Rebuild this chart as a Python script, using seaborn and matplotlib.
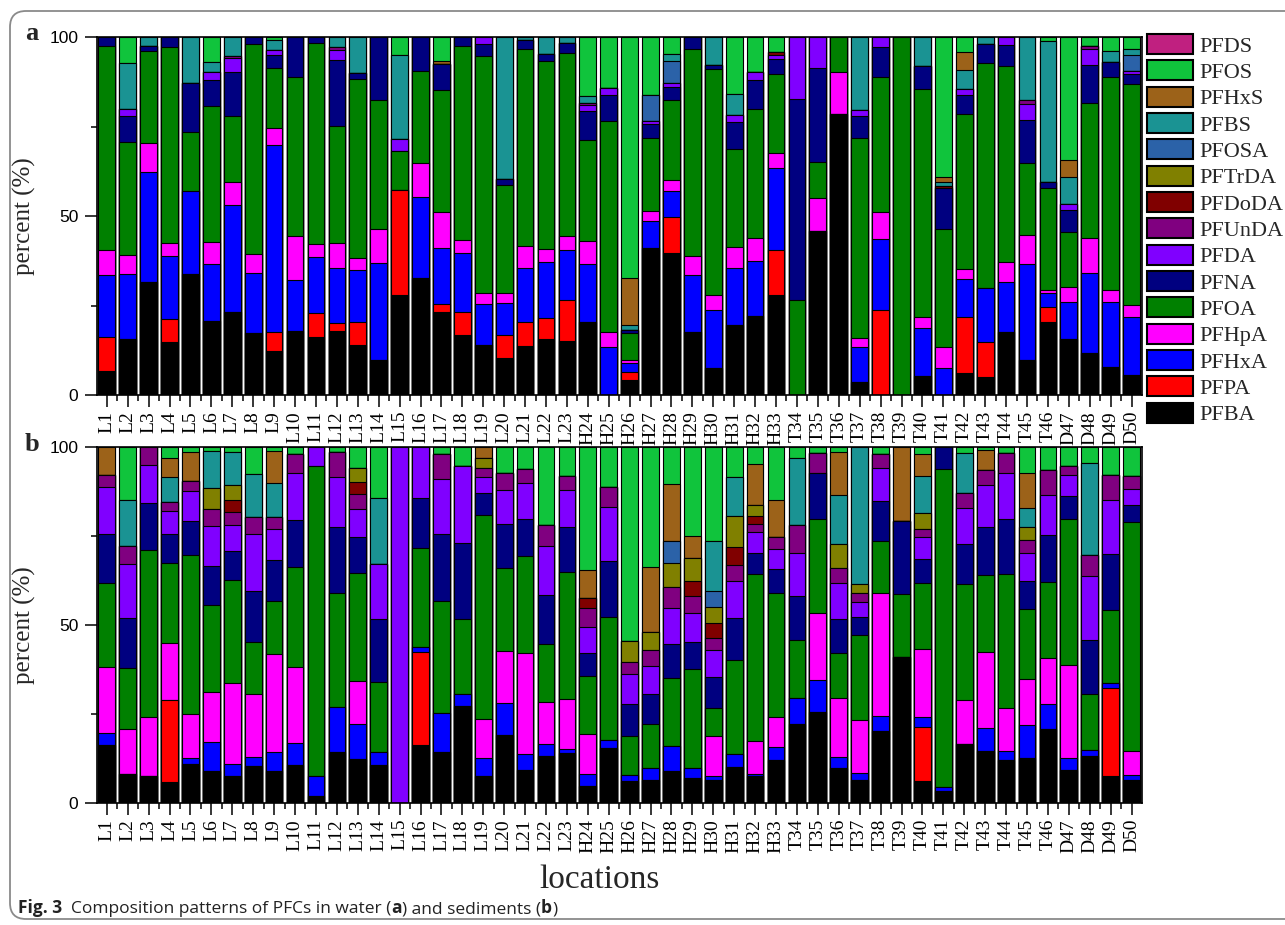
import numpy as np
import pandas as pd
import matplotlib
matplotlib.use("Agg")
import matplotlib.pyplot as plt
import seaborn as sns
from matplotlib.patches import Patch, FancyBboxPatch
from matplotlib.ticker import FixedLocator
from matplotlib.transforms import IdentityTransform

# ---------------- data ----------------
locations = ["L1", "L2", "L3", "L4", "L5", "L6", "L7", "L8", "L9", "L10",
             "L11", "L12", "L13", "L14", "L15", "L16", "L17", "L18", "L19", "L20",
             "L21", "L22", "L23", "H24", "H25", "H26", "H27", "H28", "H29", "H30",
             "H31", "H32", "H33", "T34", "T35", "T36", "T37", "T38", "T39", "T40",
             "T41", "T42", "T43", "T44", "T45", "T46", "D47", "D48", "D49", "D50"]

components = ["PFBA", "PFPA", "PFHxA", "PFHpA", "PFOA", "PFNA", "PFDA", "PFUnDA",
              "PFDoDA", "PFTrDA", "PFOSA", "PFBS", "PFHxS", "PFOS", "PFDS"]

colors = ["#000000", "#FF0000", "#0000FF", "#FF00FF", "#008000", "#000080", "#8000FF",
          "#800080", "#800000", "#808000", "#2B62A8", "#1A9393", "#9C6219", "#10C43C", "#C02080"]

# panel a: water (% composition)
water_PFBA = [6.8, 15.6, 31.4, 14.9, 33.7, 20.7, 23.1, 17.4, 12.3, 17.9,
              16.1, 17.9, 14.0, 9.8, 28.0, 32.6, 23.3, 16.8, 14.0, 10.4,
              13.8, 15.6, 15.1, 20.3, 0, 4.2, 41.0, 39.6, 17.5, 7.5,
              19.6, 22.2, 27.8, 0, 45.9, 78.6, 3.7, 0, 0, 5.3,
              0, 6.1, 4.9, 17.7, 9.8, 20.5, 15.6, 11.6, 7.9, 5.6]
water_PFPA = [9.5, 0, 0, 6.3, 0, 0, 0, 0, 5.4, 0,
              6.7, 2.1, 6.5, 0, 29.3, 0, 2.1, 6.5, 0, 6.4,
              6.7, 6.0, 11.3, 0, 0, 2.3, 0, 10.1, 0, 0,
              0, 0, 12.6, 0, 0, 0, 0, 23.8, 0, 0,
              0, 15.8, 9.8, 0, 0, 4.2, 0, 0, 0, 0]
water_PFHxA = [17.3, 18.2, 30.9, 17.7, 23.3, 15.8, 30.0, 16.8, 52.2, 14.3,
               15.7, 15.4, 14.4, 27.0, 0, 22.7, 15.6, 16.3, 11.4, 9.0,
               15.1, 15.5, 14.0, 16.3, 13.3, 2.5, 7.6, 7.4, 16.1, 16.3,
               15.8, 15.1, 23.0, 0, 0, 0, 9.8, 19.7, 0, 13.3,
               7.6, 10.4, 15.1, 13.8, 26.7, 3.7, 10.5, 22.4, 18.0, 16.3]
water_PFHpA = [6.8, 5.3, 8.0, 3.5, 0, 6.2, 6.5, 5.1, 4.7, 12.1,
               3.7, 7.0, 3.3, 9.5, 0, 9.5, 10.1, 3.7, 3.2, 2.6,
               5.9, 3.6, 4.1, 6.3, 4.2, 0.8, 2.7, 3.0, 5.1, 4.2,
               5.9, 6.5, 4.2, 0, 9.1, 11.6, 2.3, 7.6, 0, 3.1,
               5.7, 2.8, 0, 5.6, 8.2, 1.0, 4.0, 9.8, 3.3, 3.3]
water_PFOA = [57.2, 31.7, 25.6, 54.8, 16.6, 38.1, 18.2, 58.7, 16.7, 44.5,
              56.1, 32.8, 50.2, 36.0, 10.9, 25.6, 34.2, 54.1, 66.0, 30.3,
              55.1, 52.7, 51.0, 28.4, 59.1, 7.4, 20.6, 22.2, 57.9, 63.1,
              27.5, 36.2, 22.1, 26.6, 10.2, 9.8, 56.0, 37.7, 100, 63.9,
              33.1, 43.5, 62.9, 54.7, 20.1, 28.4, 15.4, 37.7, 59.6, 61.7]
water_PFNA = [2.4, 7.0, 1.4, 2.8, 13.5, 7.3, 12.4, 2.0, 3.8, 11.2,
              1.7, 18.5, 1.5, 17.7, 0, 9.6, 7.2, 2.6, 3.5, 1.7,
              2.5, 1.9, 2.8, 7.9, 7.3, 1.0, 3.8, 3.7, 3.4, 1.2,
              7.4, 8.1, 4.2, 56.2, 26.1, 0, 6.2, 8.4, 0, 6.4,
              11.4, 5.3, 5.3, 6.1, 12.1, 1.6, 6.2, 10.6, 4.1, 2.8]
water_PFDA = [0, 2.1, 0, 0, 0, 2.0, 3.9, 0, 1.2, 0,
              0, 2.6, 0, 0, 3.3, 0, 0, 0, 1.9, 0,
              0, 0, 0, 1.9, 1.8, 0, 0.9, 1.1, 0, 0,
              2.1, 2.1, 1.2, 17.2, 8.7, 0, 1.5, 2.8, 0, 0,
              0, 1.6, 0, 2.1, 4.5, 0, 1.7, 4.6, 0, 0.7]
water_PFUnDA = [0, 0, 0, 0, 0, 0, 0.7, 0, 0, 0,
                0, 0.8, 0, 0, 0, 0, 0, 0, 0, 0,
                0, 0, 0, 0.4, 0, 0, 0, 0, 0, 0,
                0, 0, 0, 0, 0, 0, 0, 0, 0, 0,
                0, 0, 0, 0, 0.9, 0, 0, 0.7, 0, 0]
water_PFDoDA = [0, 0, 0, 0, 0, 0, 0, 0, 0, 0,
                0, 0, 0, 0, 0, 0, 0, 0, 0, 0,
                0, 0, 0, 0, 0, 0, 0, 0, 0, 0,
                0, 0, 0.7, 0, 0, 0, 0, 0, 0, 0,
                0.6, 0, 0, 0, 0, 0, 0, 0, 0, 0]
water_PFTrDA = [0, 0, 0, 0, 0, 0, 0, 0, 0, 0,
                0, 0, 0, 0, 0, 0, 0, 0, 0, 0,
                0, 0, 0, 0, 0, 0, 0, 0, 0, 0,
                0, 0, 0, 0, 0, 0, 0, 0, 0, 0,
                0, 0, 0, 0, 0, 0, 0, 0, 0, 0]
water_PFOSA = [0, 0, 0, 0, 0, 0, 0, 0, 0, 0,
               0, 0, 0, 0, 0, 0, 0, 0, 0, 0,
               0, 0, 0, 0, 0, 0, 7.3, 6.1, 0, 0,
               0, 0, 0, 0, 0, 0, 0, 0, 0, 0,
               0, 0, 0, 0, 0, 0, 0, 0, 0, 4.5]
water_PFBS = [0, 12.8, 2.6, 0, 12.9, 2.9, 5.2, 0, 3.0, 0,
              0, 2.9, 10.1, 0, 23.6, 0, 0, 0, 0, 39.6,
              0.9, 4.7, 1.7, 1.9, 0, 1.4, 0, 2.0, 0, 7.7,
              5.8, 0, 0, 0, 0, 0, 20.5, 0, 0, 8.0,
              1.2, 5.2, 2.0, 0, 17.7, 39.4, 7.4, 0, 3.1, 1.7]
water_PFHxS = [0, 0, 0, 0, 0, 0, 0, 0, 0, 0,
               0, 0, 0, 0, 0, 0, 0.9, 0, 0, 0,
               0, 0, 0, 0, 0, 13.2, 0, 0, 0, 0,
               0, 0, 0, 0, 0, 0, 0, 0, 0, 0,
               1.3, 5.1, 0, 0, 0, 0, 4.9, 0, 0, 0]
water_PFOS = [0, 7.3, 0, 0, 0, 7.0, 0, 0, 0.7, 0,
              0, 0, 0, 0, 4.9, 0, 6.6, 0, 0, 0,
              0, 0, 0, 16.6, 14.3, 67.2, 16.1, 4.8, 0, 0,
              15.9, 9.8, 4.2, 0, 0, 0, 0, 0, 0, 0,
              39.1, 4.2, 0, 0, 0, 1.2, 34.3, 2.6, 4.0, 3.4]
water_PFDS = [0, 0, 0, 0, 0, 0, 0, 0, 0, 0,
              0, 0, 0, 0, 0, 0, 0, 0, 0, 0,
              0, 0, 0, 0, 0, 0, 0, 0, 0, 0,
              0, 0, 0, 0, 0, 0, 0, 0, 0, 0,
              0, 0, 0, 0, 0, 0, 0, 0, 0, 0]

# panel b: sediments (% composition)
sed_PFBA = [16.4, 8.1, 7.7, 5.8, 11.0, 8.9, 7.5, 10.5, 8.9, 10.6,
            1.9, 14.2, 12.3, 10.7, 0, 16.2, 14.2, 27.3, 7.5, 19.2,
            9.3, 13.3, 14.0, 4.9, 15.4, 6.1, 6.4, 9.1, 7.0, 6.5,
            10.1, 7.5, 12.1, 22.1, 25.5, 9.8, 6.4, 20.3, 41.1, 6.3,
            3.5, 16.5, 14.7, 12.0, 12.6, 20.8, 9.3, 13.1, 7.7, 6.5]
sed_PFPA = [0, 0, 0, 23.0, 0, 0, 0, 0, 0, 0,
            0, 0, 0, 0, 0, 26.3, 0, 0, 0, 0,
            0, 0, 0, 0, 0, 0, 0, 0, 0, 0,
            0, 0, 0, 0, 0, 0, 0, 0, 0, 15.0,
            0, 0, 0, 0, 0, 0, 0, 0, 24.5, 0]
sed_PFHxA = [3.2, 0, 0, 0, 1.6, 8.2, 3.4, 2.3, 5.3, 6.2,
             5.8, 12.7, 9.9, 3.6, 0, 1.4, 11.2, 3.4, 5.1, 9.0,
             4.4, 3.2, 1.2, 3.2, 2.4, 1.8, 3.4, 6.8, 2.8, 1.0,
             3.6, 0.7, 3.6, 7.3, 9.1, 3.1, 2.0, 4.0, 0, 2.8,
             1.0, 0, 6.3, 2.5, 9.4, 7.1, 3.3, 1.7, 1.4, 1.3]
sed_PFHpA = [18.5, 12.7, 16.4, 16.2, 12.4, 14.0, 22.9, 17.8, 27.7, 21.5,
             0, 0, 12.1, 0, 0, 0, 0, 0, 11.0, 14.6,
             28.5, 11.8, 14.0, 11.2, 0, 0, 0, 0, 0, 11.4,
             0, 9.1, 8.4, 0, 18.7, 16.5, 14.8, 34.8, 0, 19.1,
             0, 12.3, 21.5, 12.3, 12.9, 12.8, 26.2, 0, 0, 6.9]
sed_PFOA = [23.8, 17.2, 47.1, 22.5, 44.8, 24.5, 28.8, 14.7, 14.9, 28.1,
            87.0, 32.2, 30.2, 19.6, 0, 27.6, 31.4, 21.0, 57.2, 23.3,
            27.2, 16.3, 35.8, 16.4, 34.5, 11.0, 12.4, 19.3, 27.9, 7.7,
            26.5, 47.0, 34.8, 16.4, 26.6, 12.5, 24.0, 14.5, 17.5, 18.5,
            89.2, 32.6, 21.5, 37.4, 19.6, 21.4, 41.1, 15.8, 20.6, 64.1]
sed_PFNA = [13.6, 13.9, 13.2, 8.0, 9.4, 11.0, 8.2, 14.2, 11.4, 13.2,
            0, 18.5, 10.1, 17.8, 0, 14.3, 18.7, 21.2, 6.4, 12.2,
            10.5, 13.8, 12.4, 6.4, 15.6, 9.0, 8.5, 9.5, 7.6, 8.9,
            11.7, 5.8, 6.7, 12.4, 12.9, 9.4, 5.0, 11.2, 20.6, 6.8,
            6.3, 11.3, 13.4, 15.5, 7.9, 13.1, 6.4, 15.2, 15.7, 5.0]
sed_PFDA = [13.3, 15.2, 10.5, 6.5, 8.4, 11.3, 7.4, 16.0, 8.9, 13.1,
            5.3, 14.0, 7.9, 15.3, 100, 14.2, 15.6, 21.8, 4.4, 9.7,
            10.0, 13.7, 10.6, 7.2, 15.3, 8.4, 7.9, 10.2, 8.0, 7.5,
            10.4, 5.8, 5.7, 11.9, 0, 10.2, 4.4, 9.4, 0, 6.1,
            0, 10.2, 11.9, 13.1, 7.7, 11.2, 5.8, 18.0, 15.1, 4.5]
sed_PFUnDA = [3.4, 5.0, 5.1, 2.6, 2.9, 4.6, 3.6, 4.9, 3.1, 5.4,
              0, 7.0, 4.4, 0, 0, 0, 7.0, 0, 2.6, 4.8,
              3.8, 5.9, 3.8, 5.6, 5.6, 3.2, 4.4, 5.8, 4.8, 3.3,
              4.5, 2.2, 3.3, 7.9, 5.6, 4.1, 2.4, 3.7, 0, 2.5,
              0, 4.3, 4.2, 5.6, 3.7, 7.2, 2.6, 5.8, 7.1, 3.5]
sed_PFDoDA = [0, 0, 0, 0, 0, 0, 3.2, 0, 0, 0,
              0, 0, 3.3, 0, 0, 0, 0, 0, 0, 0,
              0, 0, 0, 2.6, 0, 0, 0, 0, 4.3, 4.2,
              5.2, 2.3, 0, 0, 0, 0, 0, 0, 0, 0,
              0, 0, 0, 0, 0, 0, 0, 0, 0, 0]
sed_PFTrDA = [0, 0, 0, 0, 0, 6.1, 4.3, 0, 0, 0,
              0, 0, 3.9, 0, 0, 0, 0, 0, 2.7, 0,
              0, 0, 0, 0, 0, 6.0, 5.1, 6.6, 6.5, 4.6,
              8.6, 3.2, 0, 0, 0, 6.7, 2.6, 0, 0, 4.5,
              0, 0, 0, 0, 3.6, 0, 0, 0, 0, 0]
sed_PFOSA = [0, 0, 0, 0, 0, 0, 0, 0, 0, 0,
             0, 0, 0, 0, 0, 0, 0, 0, 0, 0,
             0, 0, 0, 0, 0, 0, 0, 6.3, 0, 4.5,
             0, 0, 0, 0, 0, 0, 0, 0, 0, 0,
             0, 0, 0, 0, 0, 0, 0, 0, 0, 0]
sed_PFBS = [0, 12.9, 0, 7.0, 0, 10.2, 9.3, 12.1, 9.8, 0,
            0, 0, 0, 18.7, 0, 0, 0, 0, 0, 0,
            0, 0, 0, 0, 0, 0, 0, 0, 0, 14.0,
            11.0, 0, 0, 18.9, 0, 13.8, 38.4, 0, 0, 10.3,
            0, 11.2, 0, 0, 5.6, 0, 0, 26.0, 0, 0]
sed_PFHxS = [7.8, 0, 0, 5.3, 8.1, 0, 0, 0, 8.9, 0,
             0, 0, 0, 0, 0, 0, 0, 0, 3.1, 0,
             0, 0, 0, 7.9, 0, 0, 18.3, 16.1, 6.1, 0,
             0, 11.5, 10.4, 0, 0, 11.9, 0, 0, 20.8, 6.2,
             0, 0, 5.6, 0, 9.7, 0, 0, 0, 0, 0]
sed_PFOS = [0, 15.0, 0, 3.1, 1.4, 1.2, 1.4, 7.5, 1.1, 1.9,
            0, 1.4, 5.9, 14.3, 0, 0, 1.9, 5.3, 0, 7.2,
            6.3, 22.0, 8.2, 34.6, 11.2, 54.5, 33.6, 10.3, 25.0, 26.4,
            8.4, 4.7, 15.0, 3.1, 1.6, 1.4, 0, 2.1, 0, 1.9,
            0, 1.6, 0.9, 1.6, 7.3, 6.4, 5.3, 4.4, 7.9, 8.2]
sed_PFDS = [0, 0, 0, 0, 0, 0, 0, 0, 0, 0,
            0, 0, 0, 0, 0, 0, 0, 0, 0, 0,
            0, 0, 0, 0, 0, 0, 0, 0, 0, 0,
            0, 0, 0, 0, 0, 0, 0, 0, 0, 0,
            0, 0, 0, 0, 0, 0, 0, 0, 0, 0]

water = {"PFBA": water_PFBA, "PFPA": water_PFPA, "PFHxA": water_PFHxA, "PFHpA": water_PFHpA,
         "PFOA": water_PFOA, "PFNA": water_PFNA, "PFDA": water_PFDA, "PFUnDA": water_PFUnDA,
         "PFDoDA": water_PFDoDA, "PFTrDA": water_PFTrDA, "PFOSA": water_PFOSA, "PFBS": water_PFBS,
         "PFHxS": water_PFHxS, "PFOS": water_PFOS, "PFDS": water_PFDS}
sediment = {"PFBA": sed_PFBA, "PFPA": sed_PFPA, "PFHxA": sed_PFHxA, "PFHpA": sed_PFHpA,
            "PFOA": sed_PFOA, "PFNA": sed_PFNA, "PFDA": sed_PFDA, "PFUnDA": sed_PFUnDA,
            "PFDoDA": sed_PFDoDA, "PFTrDA": sed_PFTrDA, "PFOSA": sed_PFOSA, "PFBS": sed_PFBS,
            "PFHxS": sed_PFHxS, "PFOS": sed_PFOS, "PFDS": sed_PFDS}

# ---------------- style ----------------
sns.set_theme(style="ticks")
plt.rcParams["font.family"] = ["Liberation Serif", "DejaVu Serif"]
plt.rcParams["axes.linewidth"] = 1.2
plt.rcParams["axes.edgecolor"] = "black"

W, H = 1285, 925
fig = plt.figure(figsize=(W / 100, H / 100), dpi=100)
fig.patch.set_facecolor("white")

ax_a = fig.add_axes([97 / W, 1 - 395 / H, (1142 - 97) / W, (395 - 37) / H])
ax_b = fig.add_axes([97 / W, 1 - 803 / H, (1142 - 97) / W, (803 - 447) / H])


def draw_panel(ax, series):
    mat = np.array([series[c] for c in components], dtype=float)
    mat = mat / mat.sum(axis=0) * 100.0
    cum = np.cumsum(mat, axis=0)
    # overlay cumulative bars from the top component down to the bottom one
    for k in range(len(components) - 1, -1, -1):
        if mat[k].sum() == 0:
            continue
        df = pd.DataFrame({"loc": locations, "val": cum[k]})
        sns.barplot(data=df, x="loc", y="val", order=locations, color=colors[k],
                    saturation=1, width=0.8, edgecolor="black", linewidth=0.8,
                    errorbar=None, ax=ax)
    ax.set_xlim(-0.47, 49.5)
    ax.set_ylim(0, 100)
    ax.set_xlabel("")
    ax.set_ylabel("percent (%)", fontsize=18, family=["Liberation Serif"])
    ax.yaxis.set_label_coords(-0.058, 0.5)
    ax.set_yticks([0, 50, 100])
    ax.set_yticklabels(["0", "50", "100"], family=["Liberation Sans"], fontsize=12.5)
    ax.yaxis.set_minor_locator(FixedLocator([25, 75]))
    ax.set_xticks(range(len(locations)))
    ax.set_xticklabels(locations, rotation=90, fontsize=14, family=["Liberation Serif"])
    ax.xaxis.set_minor_locator(FixedLocator(np.arange(0.5, 49.5, 1.0)))
    ax.tick_params(axis="both", which="major", direction="out", length=8.5, width=1.1,
                   color="black", labelcolor="black", pad=3)
    ax.tick_params(axis="both", which="minor", direction="out", length=4.3, width=1.1,
                   color="black")
    ax.tick_params(axis="x", which="both", bottom=True, top=False)
    ax.tick_params(axis="y", which="both", left=True, right=False, pad=5)
    for s in ax.spines.values():
        s.set_visible(True)
        s.set_linewidth(1.2)
        s.set_color("black")
    ax.set_facecolor("white")
    ax.grid(False)


draw_panel(ax_a, water)
draw_panel(ax_b, sediment)

# panel letters
fig.text(25 / W, 1 - 40 / H, "a", fontsize=19, fontweight="bold", va="baseline", ha="left")
fig.text(25 / W, 1 - 451 / H, "b", fontsize=19, fontweight="bold", va="baseline", ha="left")

# x label
fig.text(600 / W, 1 - 888 / H, "locations", fontsize=24, va="baseline", ha="center")

# legend (top component first)
handles = [Patch(facecolor=colors[k], edgecolor="black", linewidth=1.5, label=components[k])
           for k in range(len(components) - 1, -1, -1)]
fig.legend(handles=handles, loc="upper left", bbox_to_anchor=(1147 / W, 1 - 34 / H),
           frameon=False, fontsize=16, handlelength=2.07, handleheight=1.0,
           handletextpad=0.3, labelspacing=0.17, borderpad=0, borderaxespad=0)

# outer rounded frame
frame = FancyBboxPatch((10, H - 919), 1300, 908,
                       boxstyle="round,pad=0,rounding_size=16",
                       transform=IdentityTransform(), facecolor="none",
                       edgecolor="#8a8a8a", linewidth=1.3, clip_on=False)
fig.add_artist(frame)

# caption with bold parts
fig.canvas.draw()
renderer = fig.canvas.get_renderer()
parts = [("Fig. 3", "bold"), ("  Composition patterns of PFCs in water (", "normal"),
         ("a", "bold"), (") and sediments (", "normal"), ("b", "bold"), (")", "normal")]
x_px = 18
for txt, wt in parts:
    t = fig.text(x_px / W, 1 - 913 / H, txt, fontsize=12.5, fontweight=wt,
                 family=["Open Sans", "DejaVu Sans"], va="baseline", ha="left", color="#222222")
    bb = t.get_window_extent(renderer=renderer)
    x_px = bb.x1

fig.savefig("out.png", dpi=100)
